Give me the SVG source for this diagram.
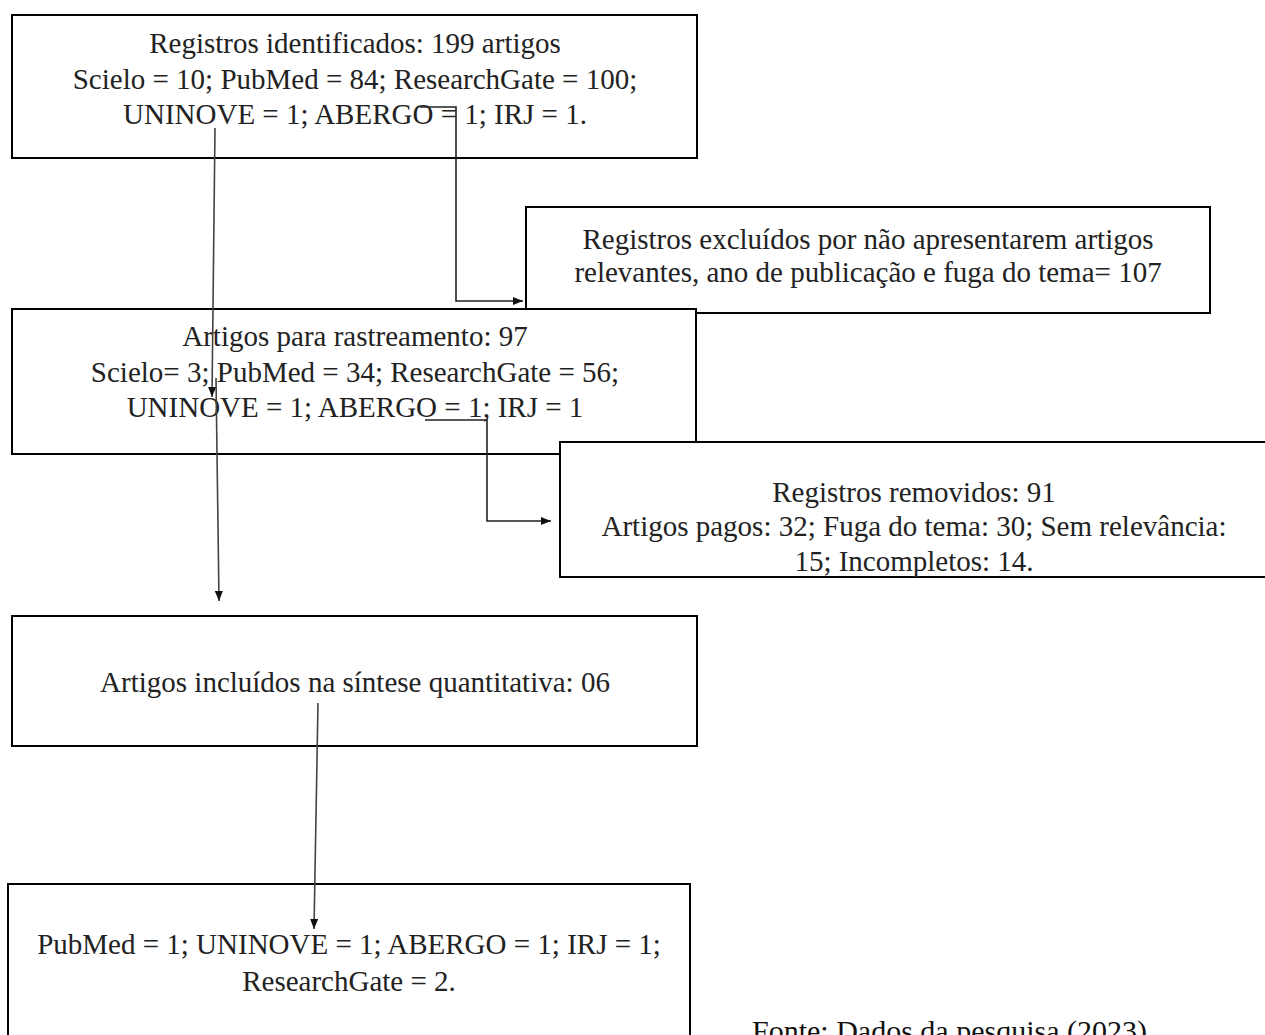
<svg xmlns="http://www.w3.org/2000/svg" width="1265" height="1035" viewBox="0 0 1265 1035">
<style>
.box{fill:#fff;stroke:#000;stroke-width:2}
.t{font-family:"Liberation Serif","Times New Roman",serif;font-size:29px;fill:#222;text-anchor:middle}
.c{fill:none;stroke:#222;stroke-width:1.6}
.g{fill:none;stroke:#444;stroke-width:1.6}
</style>
<defs>
<marker id="ah" viewBox="0 0 10 8" refX="10" refY="4" markerWidth="10" markerHeight="8" markerUnits="userSpaceOnUse" orient="auto">
<path d="M0,0 L10,4 L0,8 Z" fill="#111"/>
</marker>
</defs>
<rect width="1265" height="1035" fill="#fff"/>
<g id="n1">
<rect class="box" x="12" y="15" width="685" height="143"/>
<text class="t" x="355" y="53">Registros identificados: 199 artigos</text>
<text class="t" x="355" y="89">Scielo = 10; PubMed = 84; ResearchGate = 100;</text>
<text class="t" x="355" y="124">UNINOVE = 1; ABERGO = 1; IRJ = 1.</text>
</g>
<g id="n2">
<rect class="box" x="526" y="207" width="684" height="106"/>
<text class="t" x="868" y="249">Registros excluídos por não apresentarem artigos</text>
<text class="t" x="868" y="282">relevantes, ano de publicação e fuga do tema= 107</text>
</g>
<g id="n3">
<rect class="box" x="12" y="309" width="684" height="145"/>
<text class="t" x="355" y="346">Artigos para rastreamento: 97</text>
<text class="t" x="355" y="382">Scielo= 3; PubMed = 34; ResearchGate = 56;</text>
<text class="t" x="355" y="417">UNINOVE = 1; ABERGO = 1; IRJ = 1</text>
</g>
<g id="n5">
<rect class="box" x="560" y="442" width="710" height="135"/>
<text class="t" x="914" y="502">Registros removidos: 91</text>
<text class="t" x="914" y="536">Artigos pagos: 32; Fuga do tema: 30; Sem relevância:</text>
<text class="t" x="914" y="571">15; Incompletos: 14.</text>
</g>
<g id="n4">
<rect class="box" x="12" y="616" width="685" height="130"/>
<text class="t" x="355" y="692">Artigos incluídos na síntese quantitativa: 06</text>
</g>
<g id="n6">
<rect class="box" x="8" y="884" width="682" height="160"/>
<text class="t" x="349" y="954">PubMed = 1; UNINOVE = 1; ABERGO = 1; IRJ = 1;</text>
<text class="t" x="349" y="991">ResearchGate = 2.</text>
</g>
<g id="source">
<text x="752" y="1041" style="font-family:'Liberation Serif','Times New Roman',serif;font-size:30px;fill:#111">Fonte: Dados da pesquisa (2023)</text>
</g>
<g id="connectors">
<path class="g" d="M215,128 L212,397" marker-end="url(#ah)"/>
<path class="c" d="M420,107 L456,107 L456,301 L523,301" marker-end="url(#ah)"/>
<path class="g" d="M216,378 L219,601" marker-end="url(#ah)"/>
<path class="c" d="M425,420 L487,420 L487,521 L551,521" marker-end="url(#ah)"/>
<path class="g" d="M318,703 L314,929" marker-end="url(#ah)"/>
</g>
</svg>
